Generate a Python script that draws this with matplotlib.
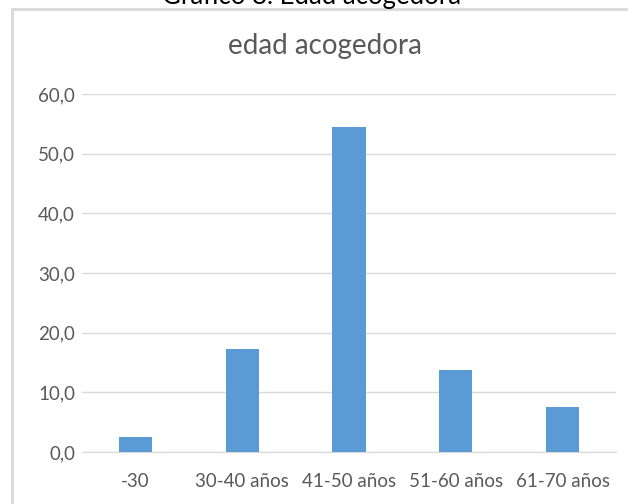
import matplotlib
matplotlib.use("Agg")
import matplotlib.pyplot as plt
from matplotlib.patches import Rectangle
from matplotlib.ticker import FuncFormatter, MultipleLocator

# Porcentaje de familias acogedoras por tramo de edad
categorias = ["-30", "30-40 años", "41-50 años", "51-60 años", "61-70 años"]
porcentajes = [2.5, 17.3, 54.4, 13.7, 7.5]

plt.rcParams['font.family'] = ['Lato', 'DejaVu Sans']

W, H = 628, 504
fig = plt.figure(figsize=(W / 100, H / 100), dpi=100)
fig.patch.set_facecolor("white")

# Marco gris del gráfico
fig.patches.append(Rectangle((12 / W, -0.1), 1.2, (H - 9) / H + 0.1,
                             transform=fig.transFigure, fill=False,
                             edgecolor="#D9D9D9", linewidth=2))

# Pie del documento, cortado por el borde superior
fig.text(312 / W, 1 - 4 / H, "Gráfico 8. Edad acogedora", ha="center",
         va="baseline", fontsize=18.5, color="black")

ax = fig.add_axes([82 / W, 52 / H, (616 - 82) / W, (452 - 94) / H])
ax.bar(range(len(categorias)), porcentajes, width=0.31, color="#5B9BD5",
       zorder=3)

ax.set_xlim(-0.5, len(categorias) - 0.5)
ax.set_ylim(0, 60)
ax.yaxis.set_major_locator(MultipleLocator(10))
ax.yaxis.set_major_formatter(FuncFormatter(lambda v, p: f"{v:.1f}".replace(".", ",")))
ax.grid(axis="y", color="#D9D9D9", linewidth=1, zorder=0)
ax.set_xticks(range(len(categorias)))
ax.set_xticklabels(categorias)
ax.tick_params(axis="both", length=0, labelsize=13.5, labelcolor="#595959")
ax.tick_params(axis="x", pad=15)
ax.tick_params(axis="y", pad=5)
for s in ax.spines.values():
    s.set_visible(False)
ax.spines["bottom"].set_visible(True)
ax.spines["bottom"].set_color("#D9D9D9")

fig.text(325 / W, 1 - 46 / H, "edad acogedora", ha="center", va="center",
         fontsize=20, color="#595959")

fig.savefig("out.png", dpi=100)
